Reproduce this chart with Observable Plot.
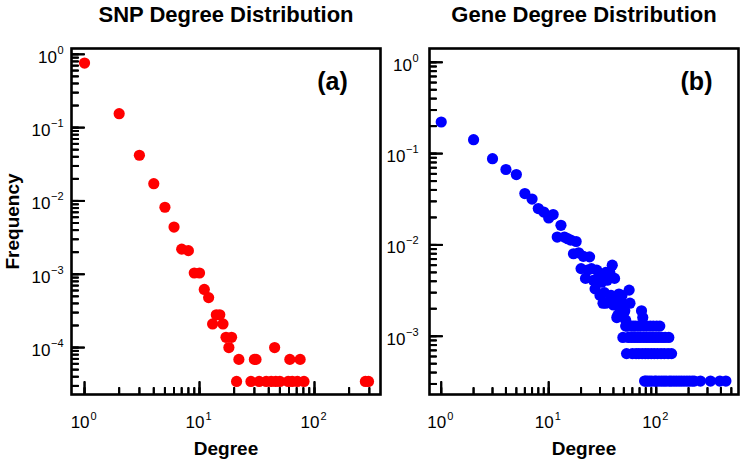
<!DOCTYPE html>
<html><head><meta charset="utf-8">
<script src="https://cdn.jsdelivr.net/npm/d3@7"></script>
<script src="https://cdn.jsdelivr.net/npm/@observablehq/plot@0.6"></script>
<style>
body{margin:0;background:#fff}
#wrap{display:flex;width:741px;height:462px}
#wrap svg{flex:none}
</style>
</head><body><div id="wrap"></div>
<script>
// ---- data ----
const snpDeg  = [1,2,3,4,5,6,7,8,9,10,11,12,13,14,15,16,17,18,19,21,22,28,30,31,33,38,42,45,46,50,59,61,64,71,75,81,277,295];
const snpFreq = [0.76,0.155,0.042,0.0172,0.0082,0.0044,0.0022,0.0021,0.00104,0.00104,6.2e-4,4.8e-4,2.1e-4,2.8e-4,2.8e-4,2.1e-4,1.38e-4,1.0e-4,1.38e-4,3.45e-5,6.9e-5,3.45e-5,6.9e-5,6.9e-5,3.45e-5,3.45e-5,3.45e-5,1.0e-4,3.45e-5,3.45e-5,3.45e-5,6.9e-5,3.45e-5,3.45e-5,6.9e-5,3.45e-5,3.45e-5,3.45e-5];

const geneDeg  = [1,2,3,4,5,6,7,8,9,10,11,12,13,14,15,16,17,18,19,20,21,22,23,24,25,26,27,28,29,30,31,32,33,34,35,36,37,38,39,40,41,42,43,44,45,46,47,48,50,51,56,57,73,75,34,43,48,52,
  52,54,58,61,64,68,72,77,82,88,94,101,108,
  49,55,59,63,67,71,76,81,86,92,98,105,113,121,131,
  53,60,65,69,74,79,84,90,96,103,111,119,129,139,
  78,80,83,87,91,97,100,106,112,118,124,132,138,146,154,163,172,182,193,204,216,226,258,320,391,445];
const geneFreq = [0.222,0.142,0.088,0.067,0.059,0.0365,0.0318,0.025,0.0229,0.0197,0.0215,0.0122,0.0164,0.0122,0.0117,0.0113,0.0080,0.0109,0.0082,0.0055,0.0075,0.0043,0.0053,0.0074,0.0055,0.0041,0.0033,0.0053,0.0044,0.0028,0.0039,0.0023,0.0030,0.0023,0.0041,0.0049,0.0050,0.0028,0.0060,0.0022,0.0043,0.0024,0.0016,0.0017,0.0029,0.0020,0.0024,0.0021,0.0018,0.0019,0.0032,0.0023,0.0019,0.0016,0.0050,0.0024,0.0028,0.0015,
  0.00129,0.00129,0.00129,0.00129,0.00129,0.00129,0.00129,0.00129,0.00129,0.00129,0.00129,0.00129,0.00129,
  0.00097,0.00097,0.00097,0.00097,0.00097,0.00097,0.00097,0.00097,0.00097,0.00097,0.00097,0.00097,0.00097,0.00097,0.00097,
  0.000645,0.000645,0.000645,0.000645,0.000645,0.000645,0.000645,0.000645,0.000645,0.000645,0.000645,0.000645,0.000645,0.000645,
  0.000323,0.000323,0.000323,0.000323,0.000323,0.000323,0.000323,0.000323,0.000323,0.000323,0.000323,0.000323,0.000323,0.000323,0.000323,0.000323,0.000323,0.000323,0.000323,0.000323,0.000323,0.000323,0.000323,0.000323,0.000323,0.000323];

const xMajor = [1, 10, 100];
const yMajorA = [1, 0.1, 0.01, 0.001, 0.0001];
const yMajorB = [1, 0.1, 0.01, 0.001];

const titles = ["SNP Degree Distribution", "Gene Degree Distribution"];
const panelTags = ["(a)", "(b)"];
const xLabel = "Degree";
const yLabel = "Frequency";

// ---- helpers ----
const FONT = "'Liberation Sans', Arial, Helvetica, sans-serif";
const expo = d => { const e = Math.round(Math.log10(d)); return e < 0 ? "\u2212" + (-e) : String(e); };
const H = 462, MT = 48, MB = 68, FH = H - MT - MB;

function yLabels(ticks, gap) {
  const pos = ticks.filter(d => d >= 1), neg = ticks.filter(d => d < 1);
  const out = [];
  for (const [tk, w] of [[pos, 6.5], [neg, 13]]) {
    if (!tk.length) continue;
    out.push(Plot.axisY({anchor: "left", ticks: tk, tickSize: 0, tickPadding: gap + w, tickFormat: () => "10", fontSize: 17, dy: 3, label: null}));
  }
  out.push(Plot.axisY({anchor: "left", ticks, tickSize: 0, tickPadding: gap, tickFormat: expo, fontSize: 11, dy: -4, label: null}));
  return out;
}
function xLabels(ticks) {
  return [
    Plot.axisX({anchor: "bottom", ticks, tickSize: 0, tickPadding: 21, tickFormat: () => "10", fontSize: 17, textAnchor: "end", dx: 5, label: null}),
    Plot.axisX({anchor: "bottom", ticks, tickSize: 0, tickPadding: 18, tickFormat: expo, fontSize: 11, textAnchor: "start", dx: 6, label: null})
  ];
}

function panel({data, color, xDomain, yDomain, yMajor, width, marginLeft, marginRight, title, tag, tagDx, gap, showYLabel}) {
  const FW = width - marginLeft - marginRight;
  const xMinor = d3.scaleLog().domain(xDomain).ticks(20).filter(d => d >= 1);
  const yMinor = d3.scaleLog().domain(yDomain).ticks(20);
  const marks = [
    // inward ticks on the bottom and left edges
    Plot.ruleX(xMinor, {insetTop: FH - 7, strokeWidth: 2}),
    Plot.ruleX(xMajor, {insetTop: FH - 13, strokeWidth: 2}),
    Plot.ruleY(yMinor, {insetRight: FW - 7, strokeWidth: 2}),
    Plot.ruleY(yMajor, {insetRight: FW - 13, strokeWidth: 2}),
    Plot.axisX({anchor: "top", frameAnchor: "bottom", ticks: xMinor, tickSize: 7, strokeWidth: 2, fill: "none", label: null}),
    Plot.axisX({anchor: "top", frameAnchor: "bottom", ticks: xMajor, tickSize: 13, strokeWidth: 2, fill: "none", label: null}),
    Plot.axisY({anchor: "right", frameAnchor: "left", ticks: yMinor, tickSize: 7, strokeWidth: 2, fill: "none", label: null}),
    Plot.axisY({anchor: "right", frameAnchor: "left", ticks: yMajor, tickSize: 13, strokeWidth: 2, fill: "none", label: null}),
    ...xLabels(xMajor),
    ...yLabels(yMajor, gap),
    Plot.dot(data, {x: "d", y: "f", r: 5.6, fill: color, stroke: null}),
    Plot.frame({strokeWidth: 2.6}),
    Plot.text([title], {frameAnchor: "top", lineAnchor: "middle", textAnchor: "middle", dy: -34, fontSize: 22, fontWeight: "bold"}),
    Plot.text([xLabel], {frameAnchor: "bottom", lineAnchor: "middle", textAnchor: "middle", dy: 54, fontSize: 19, fontWeight: "bold"}),
    Plot.text([tag], {frameAnchor: "top-right", lineAnchor: "middle", textAnchor: "middle", dx: tagDx, dy: 33, fontSize: 25, fontWeight: "bold"})
  ];
  if (showYLabel) marks.push(Plot.text([yLabel], {frameAnchor: "left", lineAnchor: "middle", textAnchor: "middle", rotate: -90, dx: -59, fontSize: 19, fontWeight: "bold"}));
  return Plot.plot({
    width, height: H,
    marginLeft, marginRight, marginTop: MT, marginBottom: MB,
    style: {fontFamily: FONT, fontSize: "16px", color: "#000"},
    x: {type: "log", domain: xDomain},
    y: {type: "log", domain: yDomain},
    marks
  });
}

const snp = snpDeg.map((d, i) => ({d, f: snpFreq[i]}));
const gene = geneDeg.map((d, i) => ({d, f: geneFreq[i]}));

const left = panel({data: snp, color: "#ff0000", xDomain: [0.77, 375], yDomain: [2.29e-5, 1.2], yMajor: yMajorA,
  width: 383, marginLeft: 71, marginRight: 3, title: titles[0], tag: panelTags[0], tagDx: -48, gap: 8, showYLabel: true});
const right = panel({data: gene, color: "#0000ff", xDomain: [0.778, 583], yDomain: [2.3e-4, 1.416], yMajor: yMajorB,
  width: 358, marginLeft: 46, marginRight: 3, title: titles[1], tag: panelTags[1], tagDx: -42, gap: 11, showYLabel: false});

const wrap = document.getElementById("wrap");
wrap.appendChild(left);
wrap.appendChild(right);
</script>
</body></html>
